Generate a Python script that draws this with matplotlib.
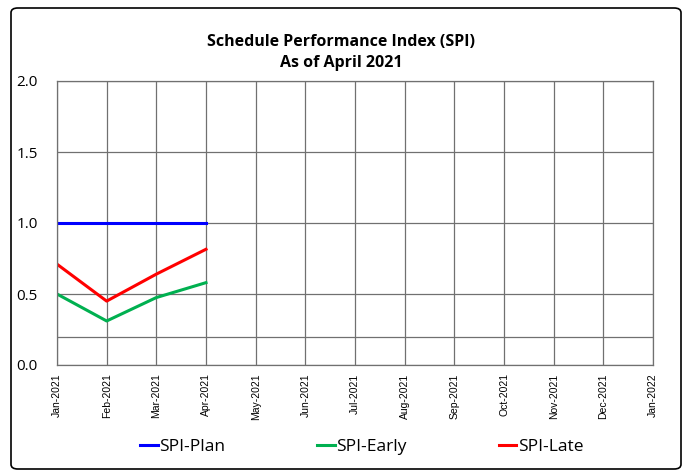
import numpy as np
import matplotlib
matplotlib.use("Agg")
from matplotlib import pyplot as plt
from matplotlib.patches import FancyBboxPatch

# data
months = ["Jan-2021", "Feb-2021", "Mar-2021", "Apr-2021", "May-2021", "Jun-2021",
          "Jul-2021", "Aug-2021", "Sep-2021", "Oct-2021", "Nov-2021", "Dec-2021",
          "Jan-2022"]
spi_plan = [1.0, 1.0, 1.0, 1.0]
spi_early = [0.50, 0.31, 0.475, 0.58]
spi_late = [0.71, 0.45, 0.64, 0.815]
ref_level = 0.2

fig = plt.figure(figsize=(6.83, 4.71), dpi=100)
fig.patch.set_facecolor("white")

# outer chart border
border = FancyBboxPatch((11/683, 2/471), 670/683, 461/471,
                        boxstyle="round,pad=0,rounding_size=0.01",
                        transform=fig.transFigure, fill=False,
                        edgecolor="black", linewidth=1.2)
fig.patches.append(border)

ax = fig.add_axes([57/683, 106/471, 596/683, 284/471])
x = np.arange(len(months))

ax.plot(x[:len(spi_plan)], spi_plan, color="#0000FF", lw=2.2, label="SPI-Plan")
ax.plot(x[:len(spi_early)], spi_early, color="#00B050", lw=2.2, label="SPI-Early")
ax.plot(x[:len(spi_late)], spi_late, color="#FF0000", lw=2.2, label="SPI-Late")
ax.axhline(ref_level, color="#707070", lw=0.9, zorder=0)

ax.set_xlim(0, len(months) - 1)
ax.set_ylim(0, 2.0)
ax.set_xticks(x)
ax.set_xticklabels(months, rotation=90, fontsize=7.5, family="Liberation Sans")
ax.set_yticks([0.0, 0.5, 1.0, 1.5, 2.0])
ax.set_yticklabels(["0.0", "0.5", "1.0", "1.5", "2.0"], fontsize=11, family="Open Sans")
ax.tick_params(axis="both", length=0, pad=6)
ax.tick_params(axis="y", pad=14)
ax.grid(True, color="#707070", lw=0.9)
ax.set_axisbelow(True)
for s in ax.spines.values():
  s.set_color("#707070")
  s.set_linewidth(0.9)

fig.text(0.499, 0.888, "Schedule Performance Index (SPI)\nAs of April 2021",
         ha="center", va="center", fontsize=11.5, fontweight="bold",
         family="Open Sans", linespacing=1.45)

fig.legend(loc="center", bbox_to_anchor=(0.53, 0.052), ncol=3, frameon=False,
           handlelength=1.0, handletextpad=0.1, columnspacing=5.3,
           prop={"family": "Open Sans", "size": 12.5})

fig.savefig("out.png", dpi=100, facecolor="white")
